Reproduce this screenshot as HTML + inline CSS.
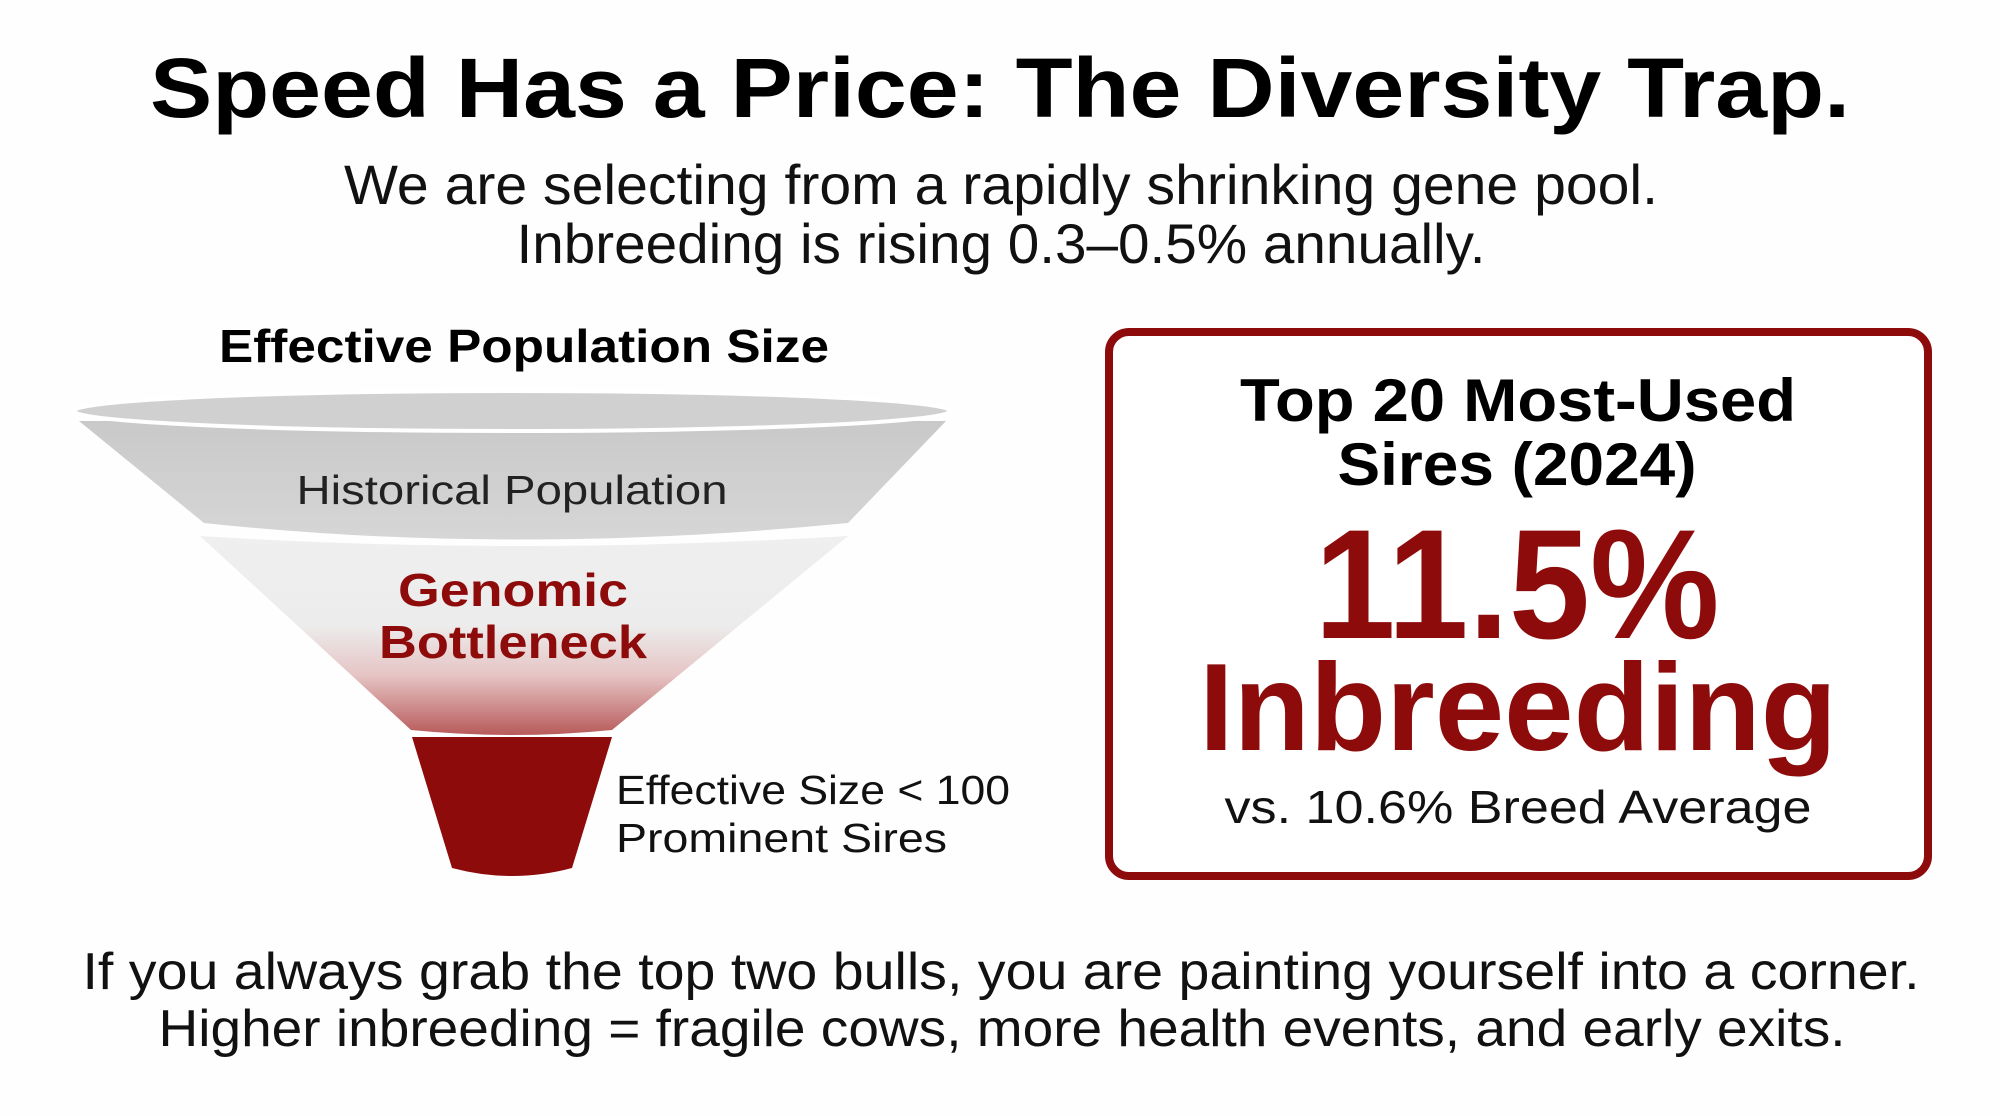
<!DOCTYPE html>
<html><head><meta charset="utf-8"><style>
html,body{margin:0;padding:0;background:#fff}
svg{display:block}
text{font-family:"Liberation Sans",sans-serif}
</style></head><body>
<svg width="2000" height="1116" viewBox="0 0 2000 1116" xmlns="http://www.w3.org/2000/svg">
<defs>
<linearGradient id="mid" x1="0" y1="0" x2="0" y2="1">
<stop offset="0" stop-color="#efefef"/>
<stop offset="0.45" stop-color="#ececec"/>
<stop offset="0.7" stop-color="#e6c4c4"/>
<stop offset="1" stop-color="#b85a5a"/>
</linearGradient>
<linearGradient id="grey" x1="0" y1="0" x2="0" y2="1">
<stop offset="0" stop-color="#c9c9c9"/>
<stop offset="1" stop-color="#d6d6d6"/>
</linearGradient>
</defs>
<rect width="2000" height="1116" fill="#fefefe"/>
<text x="1000" y="117" text-anchor="middle" font-size="84" font-weight="bold" fill="#000" textLength="1700" lengthAdjust="spacingAndGlyphs">Speed Has a Price: The Diversity Trap.</text>
<text x="1001" y="204" text-anchor="middle" font-size="56" fill="#111" textLength="1314" lengthAdjust="spacingAndGlyphs">We are selecting from a rapidly shrinking gene pool.</text>
<text x="1001" y="263" text-anchor="middle" font-size="56" fill="#111" textLength="969" lengthAdjust="spacingAndGlyphs">Inbreeding is rising 0.3–0.5% annually.</text>
<text x="524" y="362" text-anchor="middle" font-size="46" font-weight="bold" fill="#000" textLength="610" lengthAdjust="spacingAndGlyphs">Effective Population Size</text>
<!-- funnel -->
<path d="M412,737 L612,737 L572,868 Q512,884 452,868 Z" fill="#8e0b0b"/>
<path d="M200,536 Q512,556 848,536 L612,730 Q512,740 411,730 Z" fill="url(#mid)"/>
<path d="M79,421 L946,421 L848,523 Q512,556 204,523 Z" fill="url(#grey)"/>
<ellipse cx="512" cy="411" rx="438" ry="20" fill="#d0d0d0" stroke="#fff" stroke-width="4"/>
<text x="512" y="504" text-anchor="middle" font-size="41" fill="#222" textLength="431" lengthAdjust="spacingAndGlyphs">Historical Population</text>
<text x="513" y="606" text-anchor="middle" font-size="46" font-weight="bold" fill="#8e0b0b" textLength="230" lengthAdjust="spacingAndGlyphs">Genomic</text>
<text x="513" y="658" text-anchor="middle" font-size="46" font-weight="bold" fill="#8e0b0b" textLength="268" lengthAdjust="spacingAndGlyphs">Bottleneck</text>
<text x="616" y="804" font-size="41" fill="#111" textLength="394" lengthAdjust="spacingAndGlyphs">Effective Size &lt; 100</text>
<text x="616" y="852" font-size="41" fill="#111" textLength="331" lengthAdjust="spacingAndGlyphs">Prominent Sires</text>
<!-- box -->
<rect x="1109" y="332" width="819" height="544" rx="20" fill="#fff" stroke="#8e0b0b" stroke-width="8"/>
<text x="1518" y="421" text-anchor="middle" font-size="60" font-weight="bold" fill="#000" textLength="556" lengthAdjust="spacingAndGlyphs">Top 20 Most-Used</text>
<text x="1517" y="485" text-anchor="middle" font-size="60" font-weight="bold" fill="#000" textLength="359" lengthAdjust="spacingAndGlyphs">Sires (2024)</text>
<text x="1517" y="638" text-anchor="middle" font-size="156" font-weight="bold" fill="#8e0b0b" textLength="405" lengthAdjust="spacingAndGlyphs">11.5%</text>
<text x="1518" y="750" text-anchor="middle" font-size="124" font-weight="bold" fill="#8e0b0b" textLength="638" lengthAdjust="spacingAndGlyphs">Inbreeding</text>
<text x="1518" y="823" text-anchor="middle" font-size="46" fill="#111" textLength="587" lengthAdjust="spacingAndGlyphs">vs. 10.6% Breed Average</text>
<text x="1001" y="989" text-anchor="middle" font-size="52" fill="#111" textLength="1837" lengthAdjust="spacingAndGlyphs">If you always grab the top two bulls, you are painting yourself into a corner.</text>
<text x="1002" y="1046" text-anchor="middle" font-size="52" fill="#111" textLength="1687" lengthAdjust="spacingAndGlyphs">Higher inbreeding = fragile cows, more health events, and early exits.</text>
</svg>
</body></html>
